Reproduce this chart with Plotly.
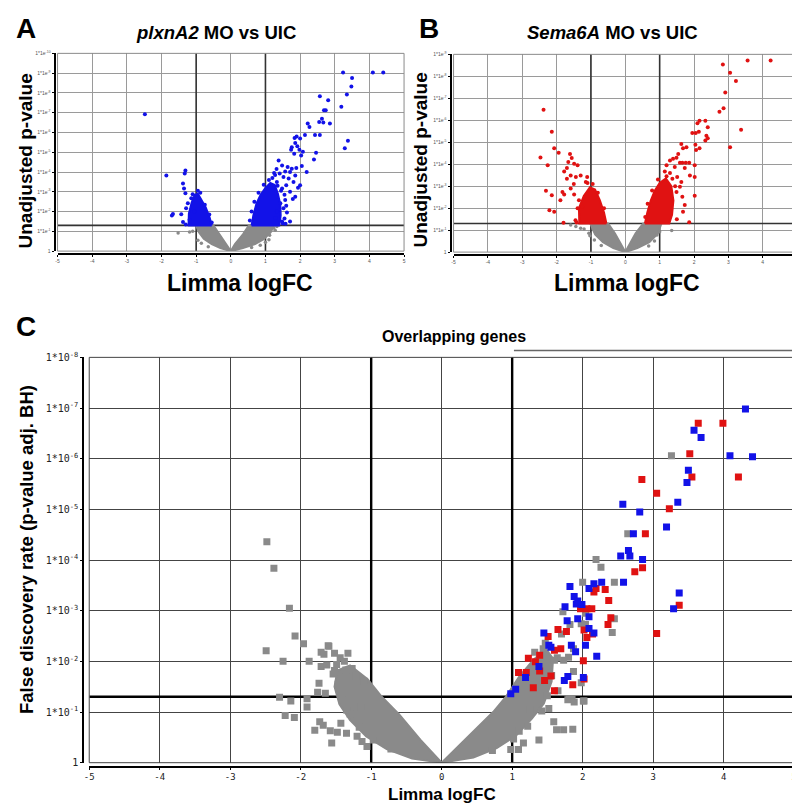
import math
import plotly.graph_objects as go

# ---------------------------------------------------------------------------
# data: x = limma logFC, y = -log10(p) (A, B) or -log10(FDR) (C)
# "core" arrays are outlines of the dense clouds that cannot be read point by point
# ---------------------------------------------------------------------------
fc_cut = 1.0
p_cut = 0.05

x_tick_vals = [-5, -4, -3, -2, -1, 0, 1, 2, 3, 4, 5]
x_tick_text = ["-5", "-4", "-3", "-2", "-1", "0", "1", "2", "3", "4", "5"]

a_tick_text = ["1", "1*1e<sup>-1</sup>", "1*1e<sup>-2</sup>", "1*1e<sup>-3</sup>", "1*1e<sup>-4</sup>",
               "1*1e<sup>-5</sup>", "1*1e<sup>-6</sup>", "1*1e<sup>-7</sup>", "1*1e<sup>-8</sup>",
               "1*1e<sup>-9</sup>", "1*1e<sup>-10</sup>"]
b_tick_text = a_tick_text[:10]
c_tick_text = ["1", "1*10<sup>-1</sup>", "1*10<sup>-2</sup>", "1*10<sup>-3</sup>", "1*10<sup>-4</sup>",
               "1*10<sup>-5</sup>", "1*10<sup>-6</sup>", "1*10<sup>-7</sup>", "1*10<sup>-8</sup>"]

# panel A  (plxnA2 MO vs UIC)
a_blue_x = [3.24, 4.10, 4.40, 3.50, 3.48, 3.35, 2.57, 2.81, 3.19, 2.69, 2.74, 2.22, 2.63, 2.55, 2.67, 2.86,
            2.27, 2.14, 2.43, 2.57, 2.00, 1.90, 1.84, 3.38, 3.29, 1.86, 1.92, 1.76, 1.74, 1.83, 1.98, 2.08,
            2.03, 2.46, 2.40, 1.38, 1.48, 2.05, 1.89, 1.64, 1.76, 1.71, 2.19, 1.57, 1.86, 1.41, 1.52, 1.67,
            1.33, 1.81, 2.00, 1.94, 1.60, 1.48, 1.71, 1.86, 1.79, 1.57, 1.43, 1.52, 1.33, 1.71, 1.48, 1.29,
            1.20, 1.28, 1.10, 1.35, 1.45, 1.55, 1.60, 1.62, 1.55, 1.50, 1.58, 0.95, 0.80, 0.68, 0.60, 0.55,
            1.25, 1.32,
            -2.48, -1.86, -1.31, -1.33, -1.38, -1.35, -1.31, -1.24, -1.29, -1.14, -1.10, -1.67, -1.70,
            -1.43, -1.38, -1.19, -1.05, -0.95, -0.88, -1.30, -0.55, -0.62, -0.75]
a_blue_y = [9.03, 9.03, 9.03, 8.75, 8.33, 7.92, 7.83, 7.63, 7.30, 7.12, 7.12, 6.45, 6.70, 6.53, 6.50, 6.45,
            6.28, 5.87, 5.87, 5.87, 5.70, 5.80, 5.72, 5.58, 5.20, 5.47, 5.30, 5.25, 5.12, 4.92, 5.13, 5.03,
            4.83, 4.97, 4.63, 4.58, 4.33, 4.30, 4.20, 4.25, 4.17, 4.00, 4.00, 4.03, 3.83, 3.92, 3.75, 3.67,
            3.50, 3.50, 3.33, 3.20, 3.33, 3.17, 3.00, 2.75, 2.63, 2.58, 2.42, 2.17, 2.00, 1.50, 1.50, 1.67,
            3.70, 3.85, 3.60, 3.30, 3.05, 2.85, 2.30, 1.95, 1.65, 1.40, 1.38, 3.35, 2.95, 2.50, 2.00, 1.55,
            3.95, 4.15,
            6.92, 3.83, 4.08, 3.92, 3.42, 3.17, 2.92, 2.42, 2.17, 2.67, 2.87, 1.88, 1.80,
            1.87, 1.47, 1.58, 2.00, 3.05, 2.95, 1.35, 1.45, 1.85, 2.35]
a_blue_core_x = [0.60, 0.65, 0.74, 0.86, 1.00, 1.14, 1.27, 1.36, 1.43, 1.44, 1.40, 0.60, None,
                 -0.55, -0.61, -0.72, -0.86, -0.95, -1.04, -1.13, -1.21, -1.22, -0.55]
a_blue_core_y = [1.30, 1.80, 2.40, 2.85, 3.20, 3.45, 3.35, 2.90, 2.35, 1.80, 1.30, 1.30, None,
                 1.30, 1.70, 2.20, 2.65, 2.90, 2.85, 2.45, 1.90, 1.30, 1.30]
a_gray_x = [-1.52, -1.19, -1.10, 1.10, 1.12, 1.24, 1.33, 1.28, -0.95, -0.85, 1.00, 0.85, -0.65, 0.60]
a_gray_y = [0.92, 0.97, 1.00, 0.58, 0.80, 1.17, 1.25, 1.05, 0.55, 0.40, 0.45, 0.30, 0.22, 0.18]
a_gray_core_x = [0.0, -0.30, -0.55, -0.78, -0.92, -1.00, -0.50, -0.32, -0.12, 0.0, None,
                 0.0, 0.12, 0.35, 0.52, 1.25, 1.15, 0.95, 0.70, 0.35, 0.0]
a_gray_core_y = [0.0, 0.15, 0.35, 0.62, 0.95, 1.30, 1.30, 0.85, 0.35, 0.0, None,
                 0.0, 0.35, 0.85, 1.30, 1.30, 0.95, 0.60, 0.35, 0.15, 0.0]

# panel B  (Sema6A MO vs UIC)
b_red_x = [2.84, 3.56, 4.23, 3.05, 3.22, 2.91, 2.74, 2.86, 3.37, 3.05, 2.16, 2.33, 2.10, 2.40, 1.95, 2.05,
           2.14, 2.36, 2.40, 2.33, 2.04, 2.16, 2.06, 1.63, 1.68, 1.78, 1.54, 1.39, 1.49, 1.59, 1.66, 1.76,
           1.86, 1.30, 1.20, 1.44, 1.73, 2.02, 1.88, 2.02, 1.15, 1.37, 1.51, 1.63, 1.59, 1.49, 1.66, 2.02,
           1.73, 1.68, 1.86, 1.30, 1.45, 1.50, 1.20, 0.95, 0.78, 0.65, 0.58,
           -2.38, -2.14, -2.07, -1.94, -2.47, -2.26, -1.61, -1.56, -1.66, -1.49, -1.39, -1.70, -1.78,
           -1.59, -1.44, -1.30, -1.70, -1.11, -1.15, -1.83, -1.78, -1.89, -1.59, -1.49, -2.31, -2.14,
           -2.21, -2.07, -1.80, -1.35, -1.39, -1.25, -1.45, -1.50, -1.10, -0.95, -0.80, -0.62, -1.42]
b_red_y = [8.54, 8.72, 8.72, 8.16, 7.79, 7.26, 6.39, 6.55, 5.57, 4.77, 5.98, 5.98, 5.86, 5.68, 5.42, 5.42,
           5.48, 5.30, 5.18, 5.08, 4.88, 4.73, 4.65, 4.92, 4.73, 4.77, 4.47, 4.25, 4.29, 4.07, 4.07, 4.07,
           4.07, 4.17, 3.95, 3.87, 3.83, 3.95, 3.49, 3.42, 3.67, 3.34, 3.42, 3.19, 2.97, 2.74, 2.52, 2.56,
           2.14, 1.84, 1.36, 3.60, 3.00, 1.50, 3.45, 3.30, 2.80, 2.20, 1.60,
           6.48, 5.48, 4.73, 4.52, 4.31, 3.95, 4.47, 4.28, 4.10, 4.02, 3.95, 3.83, 3.67,
           3.49, 3.42, 3.49, 3.34, 3.42, 3.19, 2.74, 2.62, 2.36, 2.89, 2.62, 2.79, 2.59,
           1.91, 1.84, 1.33, 2.36, 1.99, 2.06, 1.45, 3.10, 3.15, 3.10, 2.70, 2.00, 1.35]
b_red_core_x = [0.57, 0.64, 0.74, 0.86, 1.00, 1.18, 1.34, 1.40, 1.36, 1.28, 0.57, None,
                -0.55, -0.62, -0.74, -0.88, -1.03, -1.21, -1.35, -1.34, -0.55]
b_red_core_y = [1.30, 1.80, 2.35, 2.80, 3.15, 3.35, 3.00, 2.35, 1.70, 1.30, 1.30, None,
                1.30, 1.80, 2.35, 2.85, 2.95, 2.55, 2.00, 1.30, 1.30]
b_gray_x = [-1.59, -1.44, -1.30, -1.20, -1.06, -1.03, 1.35, 1.00, 0.92, -0.90, 0.85, -0.70, 0.68]
b_gray_y = [1.23, 1.16, 1.08, 1.05, 0.86, 0.74, 0.98, 0.93, 0.78, 0.55, 0.50, 0.30, 0.28]
b_gray_core_x = [0.0, -0.35, -0.65, -0.88, -1.02, -0.50, -0.30, -0.10, 0.0, None,
                 0.0, 0.10, 0.30, 0.52, 1.05, 0.95, 0.70, 0.35, 0.0]
b_gray_core_y = [0.0, 0.18, 0.45, 0.80, 1.30, 1.30, 0.85, 0.30, 0.0, None,
                 0.0, 0.30, 0.85, 1.30, 1.30, 0.85, 0.45, 0.18, 0.0]

# panel C  (overlapping genes, FDR)
c_blue_x = [4.31, 3.58, 3.68, 4.09, 4.41, 3.50, 3.48, 3.35, 2.57, 2.81, 3.19, 2.72, 2.65, 2.54, 2.67, 2.85,
            2.16, 2.27, 2.58, 1.82, 2.09, 1.88, 1.93, 1.91, 1.99, 3.37, 3.29, 1.75, 2.09, 1.78, 1.93, 2.09,
            1.45, 2.16, 1.52, 1.55, 1.84, 1.90, 2.04, 2.20, 1.38, 1.19, 1.79, 1.74, 2.01, 0.98, 1.05]
c_blue_y = [6.98, 6.56, 6.42, 6.06, 6.04, 5.77, 5.53, 5.14, 5.10, 4.95, 4.65, 4.52, 4.19, 4.08, 4.08, 4.01,
            3.53, 3.56, 3.56, 3.48, 3.44, 3.28, 3.19, 3.13, 3.12, 3.35, 3.04, 3.08, 2.88, 2.80, 2.84, 2.65,
            2.56, 2.56, 2.32, 2.28, 2.32, 2.19, 2.32, 2.10, 1.90, 1.68, 1.70, 1.62, 1.68, 1.36, 1.45]
c_red_x = [3.64, 3.99, 3.52, 3.55, 4.21, 2.84, 3.05, 3.23, 2.89, 2.74, 2.85, 2.19, 2.16, 2.32, 2.37, 3.37,
           1.97, 2.06, 2.13, 2.40, 2.36, 3.05, 1.65, 1.77, 1.51, 2.02, 2.06, 2.14, 1.60, 1.69, 2.01, 1.23,
           1.33, 1.39, 1.20, 1.55, 2.02, 1.86, 1.60, 1.30, 1.46, 1.09, 1.39]
c_red_y = [6.70, 6.70, 6.10, 5.64, 5.64, 5.59, 5.32, 5.01, 4.52, 3.77, 3.85, 3.44, 3.37, 3.42, 3.20, 3.11,
           3.04, 3.04, 3.04, 2.86, 2.73, 2.55, 2.63, 2.59, 2.49, 2.62, 2.47, 2.54, 2.22, 2.25, 2.01, 2.06,
           1.99, 2.12, 1.78, 1.71, 1.65, 1.54, 1.42, 1.48, 1.62, 1.78, 1.81]
c_gray_x = [3.26, 2.64, 2.19, 2.26, 2.00, 2.45, 1.72, 2.04, 1.82, 1.98, 2.04, 2.45, 2.42, 1.70, 1.44, 1.87,
            1.80, 1.73, 1.64, 1.87, 1.98, 1.65, 1.85, 2.01, 1.79,
            1.63, 1.73, 1.86, 1.59, 1.52, 1.81, 2.02, 1.88, 1.38, 1.09, 1.16, 0.98,
            1.50, 1.42, 1.22, 1.02, 0.72, 1.56, 1.60, 1.47, 1.32, 1.25, 1.10,
            -2.48, -2.38, -2.16, -2.08, -1.96, -2.49, -2.25, -1.88, -1.61, -1.71, -1.52, -1.33, -1.71,
            -1.63, -1.44, -1.36, -2.30, -2.14, -2.22, -2.09, -1.74, -1.76, -1.91, -1.91, -1.80, -1.68,
            -1.58, -1.48, -1.65, -1.54, -1.22, -1.10, -1.56, -1.73, -1.43, -1.35, -1.20, -1.13, -1.06,
            -1.35, -1.49, -1.67, -1.60,
            -1.47, -1.42, -1.30, -1.17, -0.97, -0.72, -1.52, -1.38, -1.27, -1.15]
c_gray_y = [6.06, 4.52, 4.01, 3.86, 3.56, 3.56, 2.98, 2.95, 2.73, 2.74, 2.73, 2.84, 2.57, 2.54, 2.25, 2.25,
            2.08, 2.02, 2.07, 1.80, 1.58, 1.42, 1.26, 1.22, 1.24,
            0.65, 0.65, 0.66, 0.81, 1.07, 1.26, 1.22, 1.20, 0.45, 0.26, 0.39, 0.26,
            1.32, 1.02, 0.72, 0.47, 0.24, 1.72, 2.02, 2.36, 2.18, 1.05, 0.62,
            4.36, 3.84, 3.05, 2.50, 2.35, 2.21, 2.00, 2.00, 2.31, 2.18, 2.16, 2.16, 1.90,
            1.93, 2.07, 1.83, 1.29, 1.22, 0.93, 0.89, 1.57, 1.39, 1.10, 1.26, 0.64, 0.74,
            0.63, 0.60, 1.37, 1.75, 1.71, 1.61, 0.39, 0.81, 0.78, 0.58, 0.52, 0.42, 0.32,
            1.04, 1.94, 2.14, 2.30,
            1.55, 1.24, 0.96, 0.70, 0.45, 0.27, 1.82, 2.00, 1.86, 1.10]
c_gray_core_x = [0.0, -0.30, -0.60, -0.85, -1.05, -1.30, -1.48, -1.52, -1.45, -1.30, -1.07, -0.78, -0.42, 0.0,
                 None,
                 0.0, 0.37, 0.73, 0.91, 1.10, 1.30, 1.48, 1.58, 1.56, 1.45, 1.28, 1.06, 0.78, 0.45, 0.0]
c_gray_core_y = [0.0, 0.45, 0.95, 1.30, 1.65, 1.92, 1.82, 1.50, 1.15, 0.84, 0.52, 0.27, 0.08, 0.0,
                 None,
                 0.0, 0.50, 1.00, 1.30, 1.70, 2.03, 2.25, 2.05, 1.60, 1.17, 0.87, 0.54, 0.29, 0.10, 0.0]

# ---------------------------------------------------------------------------
FONT = "Liberation Sans, Arial, sans-serif"
MONO = "DejaVu Sans Mono, monospace"
BLUE = "#1212e8"
RED = "#e01212"
GRAY = "#8a8a8a"
W, H = 800, 803
p_cut_log = -math.log10(p_cut)


def px_x(v):
    return v / W


def px_y(v):
    return 1 - v / H


fig = go.Figure()


def cut_lines(n, ymax, color, width):
    ax = "" if n == 1 else str(n)
    fig.add_trace(go.Scatter(
        x=[-fc_cut, -fc_cut, None, fc_cut, fc_cut, None, -5, 5],
        y=[0, ymax, None, 0, ymax, None, p_cut_log, p_cut_log],
        mode="lines", line=dict(color=color, width=width),
        xaxis="x" + ax, yaxis="y" + ax, hoverinfo="skip", showlegend=False))


def core(n, xs, ys, color):
    ax = "" if n == 1 else str(n)
    fig.add_trace(go.Scatter(
        x=xs, y=ys, mode="lines", fill="toself", fillcolor=color,
        line=dict(color=color, width=2), xaxis="x" + ax, yaxis="y" + ax,
        hoverinfo="skip", showlegend=False))


def dots(n, xs, ys, color, size, symbol):
    ax = "" if n == 1 else str(n)
    fig.add_trace(go.Scatter(
        x=xs, y=ys, mode="markers",
        marker=dict(color=color, size=size, symbol=symbol, line=dict(width=0)),
        xaxis="x" + ax, yaxis="y" + ax, hoverinfo="skip", showlegend=False))


# panel A
cut_lines(1, 10, "#333333", 1.6)
core(1, a_gray_core_x, a_gray_core_y, GRAY)
dots(1, a_gray_x, a_gray_y, GRAY, 3.5, "circle")
core(1, a_blue_core_x, a_blue_core_y, BLUE)
dots(1, a_blue_x, a_blue_y, BLUE, 4, "circle")

# panel B
cut_lines(2, 9, "#333333", 1.6)
core(2, b_gray_core_x, b_gray_core_y, GRAY)
dots(2, b_gray_x, b_gray_y, GRAY, 3.5, "circle")
core(2, b_red_core_x, b_red_core_y, RED)
dots(2, b_red_x, b_red_y, RED, 4, "circle")

# panel C
cut_lines(3, 8, "#000000", 2.4)
core(3, c_gray_core_x, c_gray_core_y, GRAY)
dots(3, c_gray_x, c_gray_y, GRAY, 7, "square")
dots(3, c_red_x, c_red_y, RED, 7, "square")
dots(3, c_blue_x, c_blue_y, BLUE, 7, "square")


def axes(xdom, ydom, ymax, ytext, xline, yline, tfont, grid, ticklen):
    xa = dict(domain=xdom, range=[-5, 5], tickvals=x_tick_vals, ticktext=x_tick_text,
              showgrid=True, gridcolor=grid, gridwidth=1, zeroline=False,
              showline=True, linecolor="black", linewidth=2, anchor="free", position=xline,
              ticks="outside", ticklen=ticklen, tickcolor="black", tickfont=tfont, fixedrange=True)
    ya = dict(domain=ydom, range=[0, ymax], tickvals=list(range(ymax + 1)), ticktext=ytext,
              showgrid=True, gridcolor=grid, gridwidth=1, zeroline=False,
              showline=True, linecolor="black", linewidth=2, anchor="free", position=yline,
              ticks="outside", ticklen=ticklen, tickcolor="black", tickfont=tfont, fixedrange=True)
    return xa, ya


small = dict(family=FONT, size=5, color="#555555")
mono = dict(family=MONO, size=10, color="#222222")

xa1, ya1 = axes([px_x(45), px_x(395)], [px_y(240), px_y(39)], 10, a_tick_text,
                px_y(243), px_x(42), small, "#9a9a9a", 2)
xa2, ya2 = axes([px_x(445), px_x(792)], [px_y(241), px_y(40)], 9, b_tick_text,
                px_y(244), px_x(442), small, "#9a9a9a", 2)
xa3, ya3 = axes([px_x(77), px_x(789)], [px_y(760), px_y(348)], 8, c_tick_text,
                px_y(764), px_x(71), mono, "#444444", 2)
xa3["tickfont"] = dict(family=MONO, size=9, color="#222222")

shapes = [
    dict(type="rect", xref="x domain", yref="y domain", x0=0, x1=1, y0=0, y1=1,
         line=dict(color="#8a8a8a", width=1)),
    dict(type="rect", xref="x2 domain", yref="y2 domain", x0=0, x1=1, y0=0, y1=1,
         line=dict(color="#8a8a8a", width=1)),
    dict(type="rect", xref="x3 domain", yref="y3 domain", x0=0, x1=1, y0=0, y1=1,
         line=dict(color="#444444", width=1)),
    dict(type="line", xref="paper", yref="paper", x0=px_x(506), x1=px_x(798),
         y0=px_y(341), y1=px_y(341), line=dict(color="#666666", width=1.5)),
]


def label(text, x, y, size, angle=0):
    return dict(text=text, x=px_x(x), y=px_y(y), xref="paper", yref="paper",
                showarrow=False, textangle=angle, xanchor="center", yanchor="middle",
                font=dict(family=FONT, size=size, color="black"))


annotations = [
    label("<b>A</b>", 13, 14, 28),
    label("<b>B</b>", 420, 14, 28),
    label("<b>C</b>", 13, 317, 28),
    label("<b><i>plxnA2</i> MO vs UIC</b>", 205, 18, 18.5),
    label("<b><i>Sema6A</i> MO vs UIC</b>", 606, 18, 18.5),
    label("<b>Unadjusted p-value</b>", 13, 148, 19, -90),
    label("<b>Unadjusted p-value</b>", 412, 147, 19, -90),
    label("<b>Limma logFC</b>", 229, 272, 23),
    label("<b>Limma logFC</b>", 620, 272, 23),
    label("<b>Overlapping genes</b>", 445, 327, 16),
    label("<b>False discovery rate (p-value adj. BH)</b>", 13, 543, 18.5, -90),
    label("<b>Limma logFC</b>", 433, 792, 17),
]

fig.update_layout(
    width=W, height=H, margin=dict(l=0, r=0, t=0, b=0),
    paper_bgcolor="white", plot_bgcolor="white", showlegend=False,
    xaxis=xa1, yaxis=ya1, xaxis2=xa2, yaxis2=ya2, xaxis3=xa3, yaxis3=ya3,
    shapes=shapes, annotations=annotations,
)

fig.write_html("out.html")
